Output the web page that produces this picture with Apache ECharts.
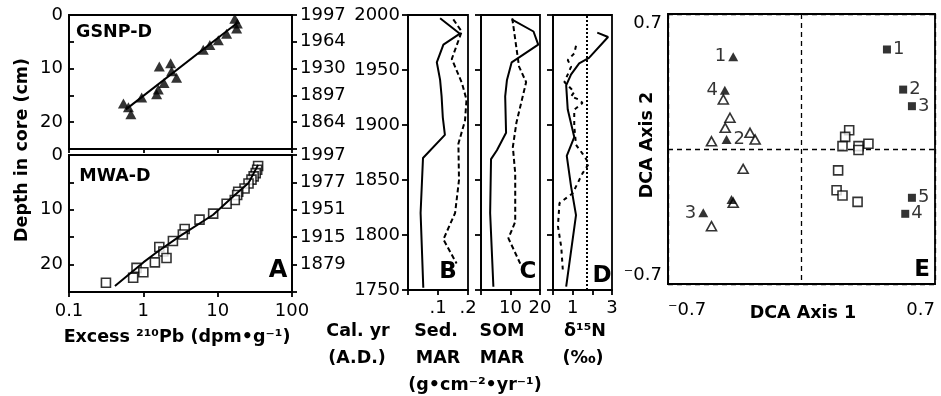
<!DOCTYPE html>
<html><head><meta charset="utf-8">
<script src="https://cdn.jsdelivr.net/npm/echarts@6/dist/echarts.min.js"></script>
<style>html,body{margin:0;padding:0;background:#fff}#c{width:941px;height:396px}</style>
</head><body><div id="c"></div>
<script>
// ---- Panel A: excess 210Pb vs depth ----
const gsnpPb    = [17.0,18.4,18.0,13.2,10.2,7.85,6.4,2.33,1.64,2.4,2.8,1.9,1.59,1.51,0.95,0.54,0.63,0.68];
const gsnpDepth = [0.7,1.6,2.5,3.5,4.7,5.6,6.5,9.0,9.6,10.5,11.7,12.7,13.9,14.8,15.4,16.5,17.2,18.5];
const gsnpFitPb    = [0.583,18.3];
const gsnpFitDepth = [17.6,1.5];
const mwaPb    = [35,34,32.5,30.5,28.5,26,23,18.9,18.3,17,13.2,8.7,5.7,3.6,3.4,2.5,1.64,1.86,2.05,1.43,0.81,1.0,0.73,0.314];
const mwaDepth = [2.0,2.7,3.3,3.9,4.5,5.2,6.1,6.7,7.3,8.2,8.9,10.7,11.8,13.5,14.5,15.7,16.8,17.6,18.8,19.6,20.6,21.4,22.4,23.3];
const mwaFitPb    = [35,26,16,8.7,3.1,1.5,1.0,0.415];
const mwaFitDepth = [1.8,5.1,7.6,10.9,14.8,17.8,19.6,23.9];
const yearTickDepths = [0,5,10,15,20];
const gsnpYearLabels = ['1997','1964','1930','1897','1864'];
const mwaYearLabels  = ['1997','1977','1951','1915','1879'];

// ---- Panel B: sediment MAR ----
const sedGsnpVal = [0.107,0.173,0.118,0.096,0.107,0.112,0.116,0.123,0.05,0.042,0.051];
const sedGsnpYr  = [1997,1983,1973,1957,1941,1926,1907,1891,1870,1820,1752];
const sedMwaVal  = [0.151,0.179,0.146,0.18,0.195,0.19,0.168,0.17,0.157,0.118,0.162];
const sedMwaYr   = [1996,1985,1960,1938,1923,1904,1883,1850,1820,1796,1774];
// ---- Panel C: SOM MAR ----
const somGsnpVal = [10.4,17.8,19.4,10.4,8.8,8.2,8.5,5.4,3.4,3.1,4.2];
const somGsnpYr  = [1996,1985,1973,1957,1941,1926,1893,1877,1869,1820,1753];
const somMwaVal  = [10.6,12.9,15.3,12.0,10.8,11.6,11.6,9.3,13.3];
const somMwaYr   = [1997,1953,1939,1902,1880,1856,1812,1797,1774];
// ---- Panel D: d15N ----
const dnGsnpVal = [2.25,2.8,1.83,1.33,0.92,0.67,0.75,1.08,0.7,0.92,1.17,0.67];
const dnGsnpYr  = [1984,1980,1961,1956,1946,1936,1914,1889,1872,1844,1818,1753];
const dnMwaVal  = [1.17,1.08,0.75,0.92,0.58,0.92,1.08,0.92,1.33,1.5,1.08,1.08,1.17,1.5,1.83,1.5,1.0,0.33,0.25,0.42,0.5];
const dnMwaYr   = [1972,1965,1959,1953,1939,1933,1930,1926,1923,1920,1914,1899,1882,1874,1865,1856,1838,1829,1808,1789,1768];
const dnRef = 1.72;

// ---- Panel E: DCA ----
const triFilledX = [-0.358,-0.402,-0.393,-0.367,-0.515];
const triFilledY = [0.478,0.305,0.049,-0.262,-0.331];
const triFilledLbl = ['1','4','2','','3'];
const triOpenX = [-0.41,-0.375,-0.40,-0.472,-0.27,-0.243,-0.306,-0.358,-0.472];
const triOpenY = [0.257,0.162,0.11,0.04,0.084,0.049,-0.103,-0.279,-0.40];
const sqFilledX = [0.448,0.533,0.579,0.579,0.544];
const sqFilledY = [0.516,0.308,0.222,-0.253,-0.336];
const sqFilledLbl = ['1','2','3','5','4'];
const sqOpenX = [0.25,0.229,0.215,0.299,0.351,0.299,0.192,0.184,0.215,0.294];
const sqOpenY = [0.097,0.063,0.015,0.015,0.027,-0.005,-0.111,-0.214,-0.241,-0.274];

const FF = 'DejaVu Sans';
const zip = (a,b) => a.map((v,i)=>[v,b[i]]);
const K = '#000';
const aLine = {show:true, onZero:false, lineStyle:{color:K, width:1.8}};
const lab = (o) => Object.assign({color:K, fontFamily:FF, fontSize:18}, o||{});
const tick = (inside,len) => ({show:true, inside:inside, length:len, lineStyle:{color:K, width:1.8}});
const noSplit = {show:false};
const box = (l,t,w,h) => ({left:l, top:t, width:w, height:h, show:true, borderColor:K, borderWidth:1.8, containLabel:false});

const logFmt = v => v < 0.5 ? '0.1' : String(Math.round(v));
const depthFmt = v => (v % 10 === 0 && v < 25) ? String(v) : '';
const yrFmt = arr => v => { const i = yearTickDepths.indexOf(v); return i >= 0 ? arr[i] : ''; };
const eFmt = v => Math.abs(v) < 1e-9 ? '' : (v < 0 ? '\u207B0.7' : '0.7');

const xAxis = [
  {type:'log', logBase:10, gridIndex:0, min:0.1, max:100, axisLine:aLine, axisTick:tick(false,4), axisLabel:{show:false}, splitLine:noSplit},
  {type:'log', logBase:10, gridIndex:1, min:0.1, max:100, axisLine:aLine, axisTick:tick(false,5), axisLabel:lab({margin:10, formatter:logFmt}), splitLine:noSplit},
  {type:'value', gridIndex:2, min:0, max:0.2, interval:0.1, axisLine:aLine, axisTick:tick(false,5), axisLabel:lab({margin:9, formatter:v => v < 0.05 ? '' : '.' + Math.round(v*10)}), splitLine:noSplit},
  {type:'value', gridIndex:3, min:0, max:20, interval:10, axisLine:aLine, axisTick:tick(false,5), axisLabel:lab({margin:9, formatter:v => v === 0 ? '' : String(v)}), splitLine:noSplit},
  {type:'value', gridIndex:4, min:0, max:3, interval:1, axisLine:aLine, axisTick:tick(false,5), axisLabel:lab({margin:9, formatter:v => (v === 1 || v === 3) ? String(v) : ''}), splitLine:noSplit},
  {type:'value', gridIndex:5, min:-0.7, max:0.7, interval:0.7, axisLine:aLine, axisTick:{show:false},
   axisLabel:lab({margin:17, formatter:eFmt, alignMinLabel:'left', alignMaxLabel:'right'}),
   splitLine:{show:true, lineStyle:{color:K, width:1.3, type:[5,4]}}}
];
const yAxis = [
  {type:'value', gridIndex:0, inverse:true, min:0, max:25, interval:5, axisLine:aLine, axisTick:tick(true,5), axisLabel:lab({margin:6, formatter:depthFmt}), splitLine:noSplit},
  {type:'value', gridIndex:0, position:'right', inverse:true, min:0, max:25, interval:5, axisLine:aLine, axisTick:tick(false,5), axisLabel:lab({margin:8, formatter:yrFmt(gsnpYearLabels)}), splitLine:noSplit},
  {type:'value', gridIndex:1, inverse:true, min:0, max:25, interval:5, axisLine:aLine, axisTick:tick(true,5), axisLabel:lab({margin:6, formatter:depthFmt}), splitLine:noSplit},
  {type:'value', gridIndex:1, position:'right', inverse:true, min:0, max:25, interval:5, axisLine:aLine, axisTick:tick(false,5), axisLabel:lab({margin:8, formatter:yrFmt(mwaYearLabels)}), splitLine:noSplit},
  {type:'value', gridIndex:2, min:1750, max:2000, interval:50, axisLine:aLine, axisTick:tick(false,6), axisLabel:lab({margin:8, formatter:v => String(v)}), splitLine:noSplit},
  {type:'value', gridIndex:3, min:1750, max:2000, interval:50, axisLine:aLine, axisTick:tick(false,6), axisLabel:{show:false}, splitLine:noSplit},
  {type:'value', gridIndex:4, min:1750, max:2000, interval:50, axisLine:aLine, axisTick:tick(false,6), axisLabel:{show:false}, splitLine:noSplit},
  {type:'value', gridIndex:5, min:-0.7, max:0.7, interval:0.7, axisLine:aLine, axisTick:{show:false},
   axisLabel:lab({margin:6, formatter:eFmt, verticalAlignMinLabel:'bottom', verticalAlignMaxLabel:'top'}),
   splitLine:{show:true, lineStyle:{color:K, width:1.3, type:[5,4]}}}
];

const solid = {color:K, width:2};
const dashed = {color:K, width:2, type:[5,3]};
const lineS = (xi, yi, data, ls, extra) => Object.assign({type:'line', xAxisIndex:xi, yAxisIndex:yi, data:data, symbol:'none', lineStyle:ls, silent:true, animation:false}, extra||{});
const openItem = {color:'#fff', borderColor:K, borderWidth:1.6};

const ptLabel = (txt, pos) => ({show: txt !== '', formatter: txt, position: pos, distance: 2, color:K, fontFamily:FF, fontSize:18});
const triLabelPos = l => l === '2' ? 'right' : 'left';

const series = [
  {type:'scatter', xAxisIndex:0, yAxisIndex:0, data:zip(gsnpPb,gsnpDepth), symbol:'triangle', symbolSize:[11,10], itemStyle:{color:K}, animation:false},
  lineS(0,0, zip(gsnpFitPb,gsnpFitDepth), solid),
  {type:'scatter', xAxisIndex:1, yAxisIndex:2, data:zip(mwaPb,mwaDepth), symbol:'rect', symbolSize:9, itemStyle:openItem, animation:false},
  lineS(1,2, zip(mwaFitPb,mwaFitDepth), solid),
  lineS(2,4, zip(sedGsnpVal,sedGsnpYr), solid),
  lineS(2,4, zip(sedMwaVal,sedMwaYr), dashed),
  lineS(3,5, zip(somGsnpVal,somGsnpYr), solid),
  lineS(3,5, zip(somMwaVal,somMwaYr), dashed),
  lineS(4,6, zip(dnGsnpVal,dnGsnpYr), solid, {
    markLine:{silent:true, symbol:'none', animation:false, label:{show:false}, lineStyle:{type:'dotted', color:K, width:2}, data:[{xAxis:dnRef}]}
  }),
  lineS(4,6, zip(dnMwaVal,dnMwaYr), {color:K, width:2, type:[4,4]}),
  {type:'scatter', xAxisIndex:5, yAxisIndex:7, symbol:'triangle', symbolSize:[10,9], itemStyle:openItem, animation:false,
   data: triOpenX.map((x,i)=>[x,triOpenY[i]])},
  {type:'scatter', xAxisIndex:5, yAxisIndex:7, symbol:'triangle', symbolSize:[10,9], itemStyle:{color:K}, animation:false,
   data: triFilledX.map((x,i)=>({value:[x,triFilledY[i]], label:ptLabel(triFilledLbl[i], triLabelPos(triFilledLbl[i]))}))},
  {type:'scatter', xAxisIndex:5, yAxisIndex:7, symbol:'rect', symbolSize:9, itemStyle:openItem, animation:false,
   data: sqOpenX.map((x,i)=>[x,sqOpenY[i]])},
  {type:'scatter', xAxisIndex:5, yAxisIndex:7, symbol:'rect', symbolSize:8, itemStyle:{color:K}, animation:false,
   data: sqFilledX.map((x,i)=>({value:[x,sqFilledY[i]], label:ptLabel(sqFilledLbl[i], 'right')}))}
];

const T = (text, x, y, size, bold, rot) => ({type:'text', x:x, y:y, rotation:rot||0, silent:true,
  style:{text:text, fill:K, font:(bold?'bold ':'') + size + 'px "DejaVu Sans"', align:'center', verticalAlign:'middle', textAlign:'center', textVerticalAlign:'middle'}});

const graphic = [
  T('Depth in core (cm)', 22, 150, 17.5, true, Math.PI/2),
  T('GSNP-D', 114, 32, 17.5, true),
  T('MWA-D', 115, 176, 17.5, true),
  T('A', 278, 271, 24, true),
  T('Excess \u00B2\u00B9\u2070Pb (dpm\u2022g\u207B\u00B9)', 177, 337, 17.5, true),
  T('Cal. yr', 358, 331, 17.5, true),
  T('(A.D.)', 357, 358, 17.5, true),
  T('Sed.', 436, 331, 17.5, true),
  T('MAR', 438, 358, 17.5, true),
  T('(g\u2022cm\u207B\u00B2\u2022yr\u207B\u00B9)', 475, 385, 17.5, true),
  T('SOM', 502, 331, 17.5, true),
  T('MAR', 502, 358, 17.5, true),
  T('\u03B4\u00B9\u2075N', 585, 331, 17.5, true),
  T('(\u2030)', 583, 358, 17.5, true),
  T('B', 448, 272, 23, true),
  T('C', 528, 272, 23, true),
  T('D', 602, 276, 23, true),
  T('E', 922, 270, 23, true),
  T('DCA Axis 1', 803, 313, 17.5, true),
  T('DCA Axis 2', 647, 145, 17.5, true, Math.PI/2)
];

const chart = echarts.init(document.getElementById('c'), null, {renderer:'canvas'});
chart.setOption({
  animation:false,
  backgroundColor:'#fff',
  grid:[box(69,15,223,134), box(69,155,223,137), box(408,15,60,275), box(481,15,59,275), box(553,15,59,275), box(668,14,267,270)],
  xAxis:xAxis, yAxis:yAxis, series:series, graphic:graphic
});
</script></body></html>
